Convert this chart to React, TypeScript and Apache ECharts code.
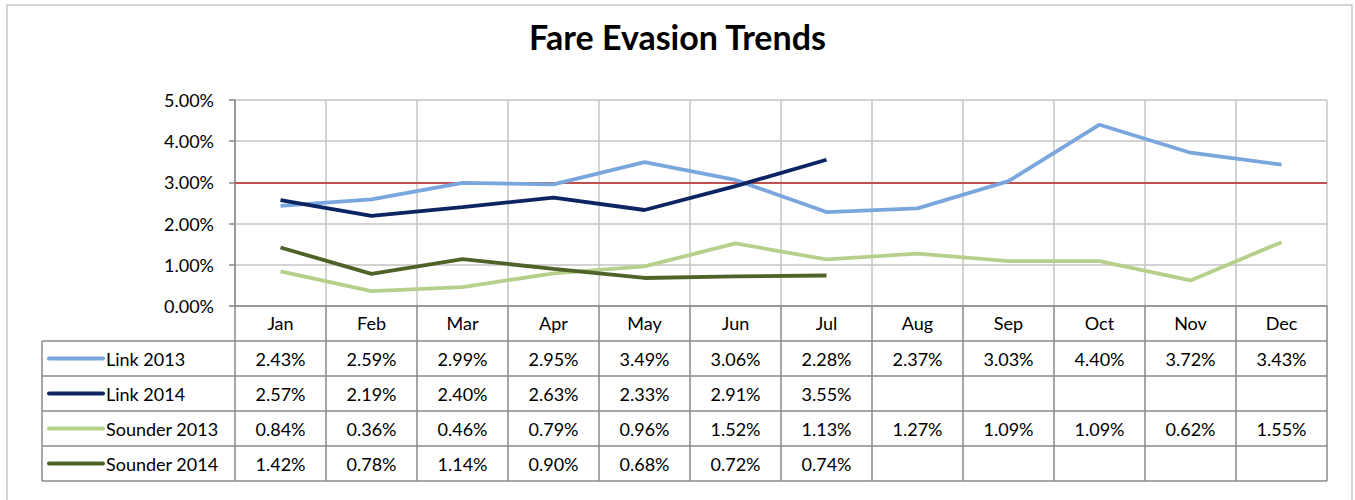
import React, { useEffect, useRef } from "react";
import * as echarts from "echarts";

const months = ["Jan", "Feb", "Mar", "Apr", "May", "Jun", "Jul", "Aug", "Sep", "Oct", "Nov", "Dec"];
const link2013 = [2.43, 2.59, 2.99, 2.95, 3.49, 3.06, 2.28, 2.37, 3.03, 4.4, 3.72, 3.43];
const link2014 = [2.57, 2.19, 2.4, 2.63, 2.33, 2.91, 3.55];
const sounder2013 = [0.84, 0.36, 0.46, 0.79, 0.96, 1.52, 1.13, 1.27, 1.09, 1.09, 0.62, 1.55];
const sounder2014 = [1.42, 0.78, 1.14, 0.9, 0.68, 0.72, 0.74];
const seriesNames = ["Link 2013", "Link 2014", "Sounder 2013", "Sounder 2014"];
const seriesColors = ["#7aa6de", "#0c2462", "#b5d08a", "#4f6228"];
const targetRate = 3.0;
const yMin = 0;
const yMax = 5;
const yStep = 1;

const FONT = "Lato, 'Open Sans', sans-serif";
const FS = 18;

export default function App() {
  const ref = useRef<HTMLDivElement>(null);

  useEffect(() => {
    if (!ref.current) return;
    const chart = echarts.init(ref.current, undefined, { renderer: "svg" });
    const allData = [link2013, link2014, sounder2013, sounder2014];

    const gridLeft = 235;
    const gridRight = 28;
    const gridTop = 100;
    const gridBottom = 194;

    chart.setOption({
      animation: false,
      backgroundColor: "#ffffff",
      textStyle: { fontFamily: FONT },
      title: {
        text: "Fare Evasion Trends",
        left: "center",
        top: 14,
        textStyle: { fontFamily: FONT, fontSize: 34, fontWeight: "bold", color: "#000" },
      },
      grid: { left: gridLeft, right: gridRight, top: gridTop, bottom: gridBottom, containLabel: false },
      xAxis: {
        type: "category",
        data: months,
        boundaryGap: true,
        axisLine: { show: true, lineStyle: { color: "#868686", width: 1.5 } },
        axisTick: { show: true, alignWithLabel: false, interval: 0, length: 35, lineStyle: { color: "#8a8a8a", width: 1.5 } },
        axisLabel: { color: "#000", fontSize: FS, fontFamily: FONT, margin: 8, interval: 0 },
        splitLine: { show: true, interval: 0, lineStyle: { color: "#c4c4c4", width: 1.5 } },
      },
      yAxis: {
        type: "value",
        min: yMin,
        max: yMax,
        interval: yStep,
        axisLine: { show: true, lineStyle: { color: "#868686", width: 1.5 } },
        axisTick: { show: true, length: 6, lineStyle: { color: "#868686", width: 1.5 } },
        axisLabel: {
          color: "#000",
          fontSize: FS,
          fontFamily: FONT,
          margin: 21,
          formatter: (v: number) => v.toFixed(2) + "%",
        },
        splitLine: { show: true, lineStyle: { color: "#c4c4c4", width: 1.5 } },
      },
      series: allData.map((d, i) => ({
        name: seriesNames[i],
        type: "line",
        data: d,
        symbol: "none",
        lineStyle: { color: seriesColors[i], width: 3.8 },
        z: 3 + i,
        markLine:
          i === 0
            ? {
                silent: true,
                symbol: "none",
                label: { show: false },
                lineStyle: { color: "#c0504d", width: 1.8, type: "solid" },
                data: [{ yAxis: targetRate }],
                z: 2,
              }
            : undefined,
      })),
    });

    // Build data table below the plot using the axis scale positions
    const cx = (i: number) => chart.convertToPixel({ xAxisIndex: 0 }, i) as number;
    const colW = cx(1) - cx(0);
    const plotL = cx(0) - colW / 2;
    const plotR = cx(months.length - 1) + colW / 2;
    const tableTop = 341;
    const rowH = 35;
    const legendLeft = 42;
    const lineColor = "#8a8a8a";
    const graphics: any[] = [];

    graphics.push({
      type: "rect",
      shape: { x: 7, y: 5, width: 1345, height: 520 },
      style: { fill: "none", stroke: "#c8c8c8", lineWidth: 1.5 },
      z: 0,
      silent: true,
    });

    for (let r = 0; r <= seriesNames.length; r++) {
      const y = tableTop + r * rowH;
      graphics.push({
        type: "line",
        shape: { x1: legendLeft, y1: y, x2: plotR, y2: y },
        style: { stroke: lineColor, lineWidth: 1.5 },
        z: 10,
      });
    }
    const tableBottom = tableTop + seriesNames.length * rowH;
    graphics.push({
      type: "line",
      shape: { x1: legendLeft, y1: tableTop, x2: legendLeft, y2: tableBottom },
      style: { stroke: lineColor, lineWidth: 1.5 },
      z: 10,
    });
    for (let c = 0; c <= months.length; c++) {
      const x = plotL + c * colW;
      graphics.push({
        type: "line",
        shape: { x1: x, y1: tableTop, x2: x, y2: tableBottom },
        style: { stroke: lineColor, lineWidth: 1.5 },
        z: 10,
      });
    }

    allData.forEach((d, r) => {
      const yc = tableTop + r * rowH + rowH / 2;
      graphics.push({
        type: "line",
        shape: { x1: 49, y1: yc, x2: 103, y2: yc },
        style: { stroke: seriesColors[r], lineWidth: 4, lineCap: "round" },
        z: 11,
      });
      graphics.push({
        type: "text",
        x: 106,
        y: yc,
        style: {
          text: seriesNames[r],
          fontSize: FS,
          fontFamily: FONT,
          fill: "#000",
          textAlign: "left",
          textVerticalAlign: "middle",
        },
        z: 11,
      });
      d.forEach((v, i) => {
        graphics.push({
          type: "text",
          x: cx(i),
          y: yc,
          style: {
            text: v.toFixed(2) + "%",
            fontSize: FS,
            fontFamily: FONT,
            fill: "#000",
            textAlign: "center",
            textVerticalAlign: "middle",
          },
          z: 11,
        });
      });
    });

    chart.setOption({ graphic: graphics });

    return () => chart.dispose();
  }, []);

  return (
    <div
      ref={ref}
      style={{ position: "absolute", left: 0, top: 0, width: 1355, height: 500 }}
    />
  );
}
